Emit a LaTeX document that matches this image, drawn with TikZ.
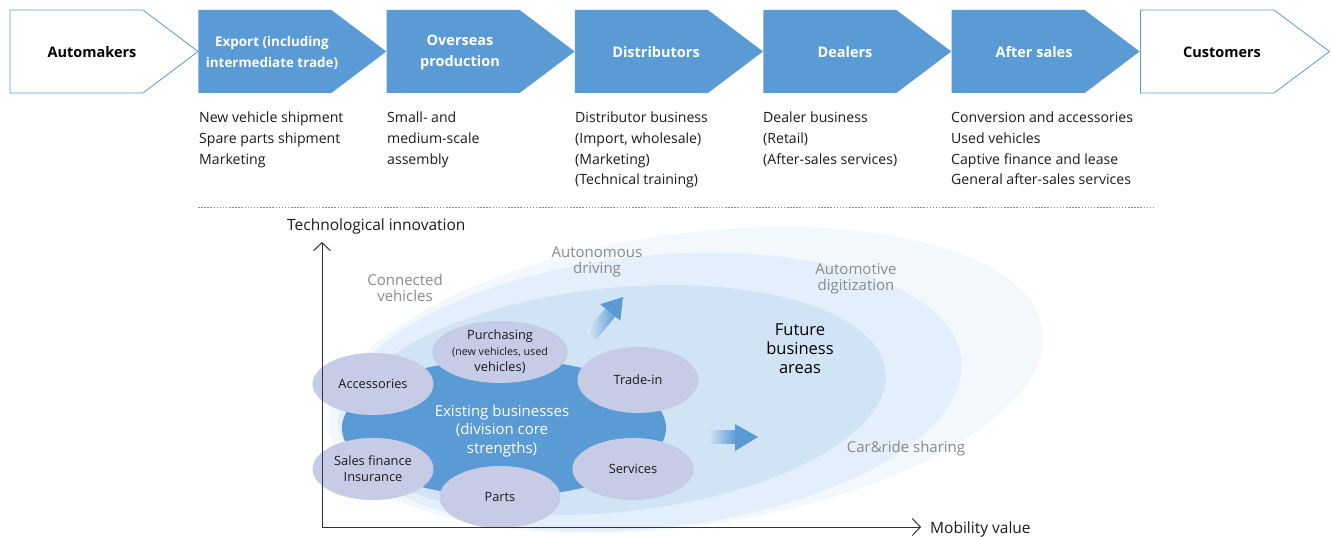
\documentclass[tikz,border=0pt]{standalone}
\usepackage{fontspec}
\setmainfont{Open Sans}
\usetikzlibrary{shapes.geometric,arrows.meta}
\definecolor{cblue}{HTML}{5B9BD5}
\definecolor{ellA}{HTML}{F3F8FD}
\definecolor{ellB}{HTML}{E3EFFA}
\definecolor{ellC}{HTML}{D1E4F6}
\definecolor{lav}{HTML}{C6CCE6}
\definecolor{glab}{HTML}{8A8A8A}
\definecolor{txt}{HTML}{1A1A1A}
\definecolor{axisc}{HTML}{333333}
\tikzset{
  chevtxt/.style={font=\bfseries\fontsize{14.5}{21}\selectfont, align=center, inner sep=0pt},
  desc/.style={font=\fontsize{14.1}{20.8}\selectfont, text=txt, anchor=base west, inner sep=0pt},
  smallell/.style={ellipse, fill=lav, minimum width=121pt, minimum height=62pt, inner sep=0pt,
     align=center, text=txt, font=\fontsize{12.8}{16}\selectfont},
  graylab/.style={text=glab, align=center, font=\fontsize{15}{16}\selectfont, inner sep=0pt},
  axisline/.style={draw=axisc, line width=1pt},
}
\begin{document}
\begin{tikzpicture}[x=1pt,y=-1pt]
\useasboundingbox (0,0) rectangle (1331,537);

% ---------- chevrons ----------
\draw[cblue, fill=white, line width=0.8pt] (10,10) -- (143,10) -- (198,51.5) -- (143,93) -- (10,93) -- cycle;
\foreach \i in {1,...,5} {
  \fill[cblue] ({10+188.33*\i},10) -- ++(133,0) -- ++(55,41.5) -- ++(-55,41.5) -- ++(-133,0) -- cycle;
}
\draw[cblue, fill=white, line width=0.8pt] (1140.5,10) -- (1274,10) -- (1329.5,51.5) -- (1274,93) -- (1140.5,93) -- cycle;

\node[chevtxt, text=black] (automakers) at (92,52) {Automakers};
\node[chevtxt, text=white, font=\bfseries\fontsize{13.4}{21}\selectfont] (export) at (272,52.5) {Export (including\\intermediate trade)};
\node[chevtxt, text=white] (overseas) at (460,52.5) {Overseas\\production};
\node[chevtxt, text=white] (distributors) at (656,52) {Distributors};
\node[chevtxt, text=white] (dealers) at (845,52) {Dealers};
\node[chevtxt, text=white] (aftersales) at (1034,52) {After sales};
\node[chevtxt, text=black] (customers) at (1222,52) {Customers};

% ---------- descriptions ----------
\foreach \t [count=\k from 0] in {New vehicle shipment, Spare parts shipment, Marketing}
  \node[desc] (dexp\k) at (199,{122.5+20.8*\k}) {\t};
\foreach \t [count=\k from 0] in {Small- and, medium-scale, assembly}
  \node[desc] (dovs\k) at (387,{122.5+20.8*\k}) {\t};
\foreach \t [count=\k from 0] in {Distributor business, {(Import, wholesale)}, (Marketing), (Technical training)}
  \node[desc] (ddis\k) at (575,{122.5+20.8*\k}) {\t};
\foreach \t [count=\k from 0] in {Dealer business, (Retail), (After-sales services)}
  \node[desc] (ddea\k) at (763,{122.5+20.8*\k}) {\t};
\foreach \t [count=\k from 0] in {Conversion and accessories, Used vehicles, Captive finance and lease, General after-sales services}
  \node[desc] (daft\k) at (951,{122.5+20.8*\k}) {\t};

% dotted separator
\coordinate (sepL) at (198,207);
\coordinate (sepR) at (1153,207);
\draw[draw=black!45, line width=0.7pt, dash pattern=on 1.5pt off 1.6pt] (sepL) -- (sepR);

% ---------- ellipses ----------
\fill[ellA, rotate around={8:(686,380)}] (686,380) ellipse [x radius=360pt, y radius=146pt];
\fill[ellB, rotate around={6:(650,392)}] (650,392) ellipse [x radius=313pt, y radius=136pt];
\fill[ellC, rotate around={6:(615,400)}] (615,400) ellipse [x radius=272pt, y radius=112pt];

\node[ellipse, fill=cblue, minimum width=324pt, minimum height=137pt, inner sep=0pt] (existing) at (504,428) {};
\node[text=white, align=center, font=\fontsize{15}{18.5}\selectfont, inner sep=0pt] (existtxt) at (502,431)
  {Existing businesses\\(division core\\strengths)};

\node[smallell] (accessories) at (373,384) {Accessories};
\node[smallell] (purchasing) at (500,352) {Purchasing\\\fontsize{10.7}{16}\selectfont(new vehicles, used\\vehicles)};
\node[smallell, minimum height=66pt] (tradein) at (638,380) {Trade-in};
\node[smallell] (salesfin) at (373,469) {Sales finance\\Insurance};
\node[smallell] (parts) at (500,497) {Parts};
\node[smallell] (services) at (633,469) {Services};

% ---------- gradient arrows ----------
\shade[left color=ellC, right color=cblue] (709,430.5) rectangle (736,443.5);
\fill[cblue] (735,424) -- (758,437) -- (735,451) -- cycle;

\begin{scope}[shift={(623,297)}, rotate=50.5]
  \shade[left color=ellB, right color=cblue] (-50,-6.5) rectangle (-19,6.5);
  \fill[cblue] (-20,-13) -- (0,0) -- (-20,13) -- cycle;
\end{scope}

% ---------- labels ----------
\node[graylab] (connected) at (405,288) {Connected\\vehicles};
\node[graylab] (autonomous) at (597,262) {Autonomous\\driving};
\node[graylab] (digitization) at (856,279) {Automotive\\digitization};
\node[graylab] (sharing) at (906,449) {Car\&ride sharing};
\node[text=black, align=center, font=\fontsize{16.5}{19}\selectfont, inner sep=0pt] (future) at (800,349)
  {Future\\business\\areas};

% ---------- axes ----------
\coordinate (origin) at (322,527);
\coordinate (ytop) at (322,242);
\coordinate (xend) at (921,527);
\draw[axisline, -{Straight Barb[length=8pt, width=17pt]}] (origin) -- (ytop);
\draw[axisline, -{Straight Barb[length=8pt, width=17pt]}] (origin) -- (xend);
\node[anchor=base west, inner sep=0pt, text=txt, font=\fontsize{15.5}{18}\selectfont] (ylab) at (287,231) {Technological innovation};
\node[anchor=base west, inner sep=0pt, text=txt, font=\fontsize{15.5}{18}\selectfont] (xlab) at (930,533) {Mobility value};
\end{tikzpicture}
\end{document}
